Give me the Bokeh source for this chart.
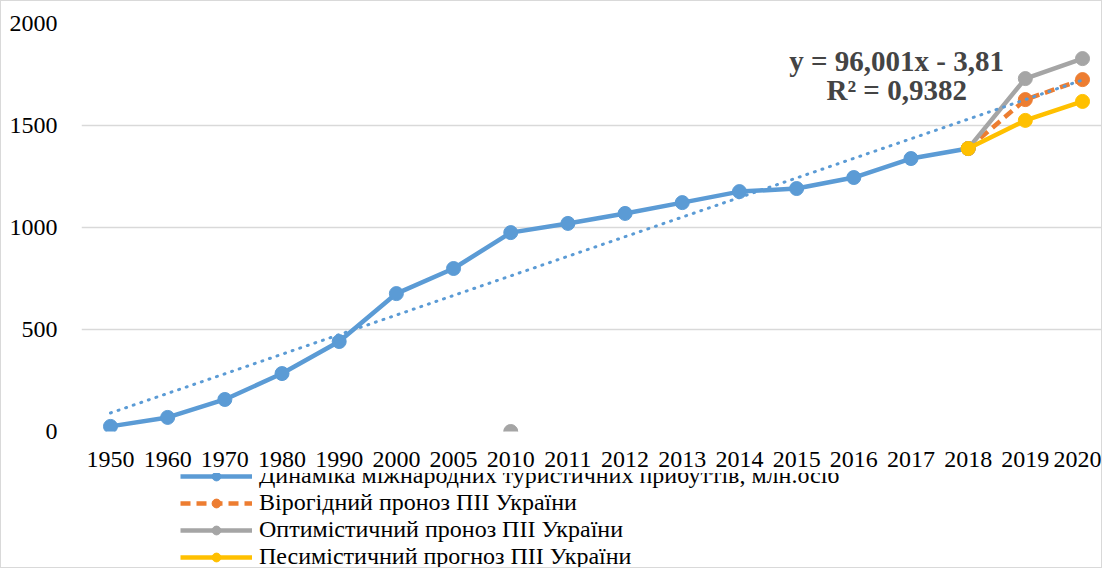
import numpy as np
from bokeh.plotting import figure
from bokeh.layouts import column
from bokeh.models import (ColumnDataSource, FixedTicker, Legend, LegendItem, Label)
from bokeh.embed import file_html
from bokeh.resources import INLINE

years = ["1950", "1960", "1970", "1980", "1990", "2000", "2005", "2010", "2011",
         "2012", "2013", "2014", "2015", "2016", "2017", "2018", "2019", "2020"]
arrivals = [25, 69, 157, 284, 441, 676, 799, 975, 1020, 1069, 1122, 1176, 1191,
            1245, 1338, 1387, None, None]
probable = [None] * 15 + [1387, 1627, 1725]
optimistic = [None] * 7 + [0] + [None] * 7 + [1387, 1730, 1828]
pessimistic = [None] * 15 + [1387, 1525, 1618]
eq_text = "y = 96,001x - 3,81"
r2_text = "R² = 0,9382"

labels = ["Динаміка міжнародних туристичних прибуттів, млн.осіб",
          "Вірогідний проноз ПІІ України",
          "Оптимістичний проноз ПІІ України",
          "Песимістичний прогноз ПІІ України"]

FONT = "Liberation Serif"
BLUE, ORANGE, GRAY, YELLOW = "#5B9BD5", "#ED7D31", "#A5A5A5", "#FFC000"

idx = np.arange(1, len(years) + 1)

def arr(v):
    return np.array([np.nan if a is None else a for a in v], dtype=float)

p = figure(frame_width=1020, frame_height=408, output_backend="svg", toolbar_location=None,
           x_range=(0.493, 18.332), y_range=(0, 2000),
           min_border_left=80, min_border_right=0, min_border_top=22, min_border_bottom=42)
p.outline_line_color = None
p.background_fill_color = "white"

p.xgrid.grid_line_color = None
p.ygrid.grid_line_color = "#d9d9d9"
p.ygrid.grid_line_width = 1.3
p.yaxis.ticker = FixedTicker(ticks=[0, 500, 1000, 1500, 2000])
p.xaxis.ticker = FixedTicker(ticks=list(idx))
p.xaxis.major_label_overrides = {int(i): y for i, y in zip(idx, years)}
for ax in (p.xaxis, p.yaxis):
    ax.axis_line_color = None
    ax.major_tick_line_color = None
    ax.minor_tick_line_color = None
    ax.major_label_text_font = FONT
    ax.major_label_text_font_size = "24px"
    ax.major_label_text_color = "#000000"
p.xaxis.major_label_standoff = 14
p.yaxis.major_label_standoff = 18

lw = 4.5
ms = 14
src = ColumnDataSource(dict(x=idx, a=arr(arrivals), pr=arr(probable),
                            op=arr(optimistic), pe=arr(pessimistic)))

cols = ["a", "pr", "op", "pe"]
styles = [dict(color=BLUE), dict(color=ORANGE, line_dash="10 6"),
          dict(color=GRAY), dict(color=YELLOW)]

for c, st in zip(cols, styles):
    p.line("x", c, source=src, line_width=lw, line_join="round", **st)
    p.scatter("x", c, source=src, size=ms, color=st["color"])

# linear trend fitted to the arrivals series
a = arr(arrivals)
mask = ~np.isnan(a)
k, b = np.polyfit(idx[mask], a[mask], 1)
tx = np.array([idx[0], idx[-1]], dtype=float)
p.line(tx, k * tx + b, color=BLUE, line_width=3, line_dash="1 7", line_cap="round")

p.add_layout(Label(x=14.75, y=1818, text=eq_text, text_font=FONT, text_font_size="29px",
                   text_font_style="bold", text_align="center", text_baseline="middle"))
p.add_layout(Label(x=14.75, y=1672, text=r2_text, text_font=FONT, text_font_size="29px",
                   text_font_style="bold", text_align="center", text_baseline="middle"))

# legend strip below the chart (same series, drawn outside its visible y range)
p2 = figure(width=1100, height=94, output_backend="svg", toolbar_location=None,
            x_range=(0.493, 18.332), y_range=(-3000, -2000),
            x_axis_location=None, y_axis_location=None,
            min_border_left=0, min_border_right=0, min_border_top=0, min_border_bottom=0)
p2.outline_line_color = None
p2.grid.visible = False

items = []
for lab, c, st in zip(labels, cols, styles):
    lr = p2.line("x", c, source=src, line_width=lw, **st)
    mr = p2.scatter("x", c, source=src, size=ms, color=st["color"])
    items.append(LegendItem(label=lab, renderers=[lr, mr]))

legend = Legend(items=items, location=(99, -3), orientation="vertical")
legend.label_text_font = FONT
legend.label_text_font_size = "24px"
legend.label_text_color = "#000000"
legend.glyph_width = 72
legend.glyph_height = 22
legend.label_height = 22
legend.spacing = -10
legend.padding = 0
legend.margin = 0
legend.border_line_color = None
legend.background_fill_alpha = 0
legend.label_standoff = 7
p2.add_layout(legend, "center")

layout = column(p, p2, spacing=0)
layout.styles = {"border": "1px solid #d9d9d9"}

open("out.html", "w").write(file_html(layout, INLINE))
